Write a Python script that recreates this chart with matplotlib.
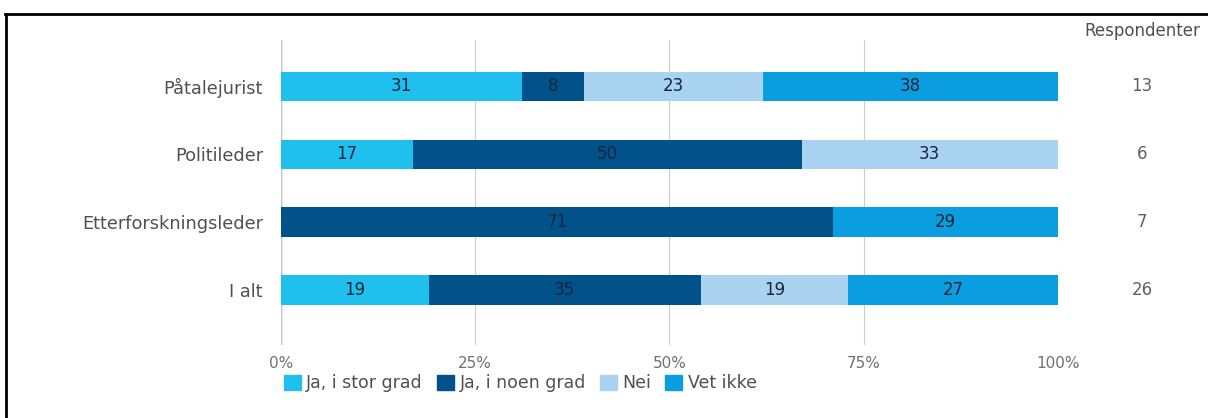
import matplotlib.pyplot as plt
from matplotlib.lines import Line2D

plt.rcParams['font.family'] = ['DejaVu Sans']

roles = ['Påtalejurist', 'Politileder', 'Etterforskningsleder', 'I alt']
answers = ['Ja, i stor grad', 'Ja, i noen grad', 'Nei', 'Vet ikke']
stor_grad = [31, 17, 0, 19]
noen_grad = [8, 50, 71, 35]
nei = [23, 33, 0, 19]
vet_ikke = [38, 0, 29, 27]
respondents = [13, 6, 7, 26]

colors = ['#1fc0ee', '#01528a', '#a9d3f1', '#0a9de0']
series = [stor_grad, noen_grad, nei, vet_ikke]

fig = plt.figure(figsize=(12.08, 4.18), dpi=100)
ax = fig.add_axes([0.2326, 0.1746, 0.6432, 0.7297])

y = list(range(len(roles)))
left = [0] * len(roles)
for name, vals, c in zip(answers, series, colors):
    ax.barh(y, vals, left=left, height=0.43, color=c, label=name, zorder=2)
    for i, v in enumerate(vals):
        if v > 0:
            ax.text(left[i] + v / 2, y[i], str(v), ha='center', va='center',
                    fontsize=12, color='#16263a', zorder=3)
    left = [l + v for l, v in zip(left, vals)]

ax.set_xlim(0, 100)
ax.set_ylim(3.81, -0.68)
ax.set_yticks(y)
ax.set_yticklabels(roles, fontsize=12.8, color='#505050')
ax.tick_params(axis='y', length=0, pad=13)
ax.set_xticks([0, 25, 50, 75, 100])
ax.set_xticklabels(['0%', '25%', '50%', '75%', '100%'], fontsize=11, color='#707070')
ax.tick_params(axis='x', length=0, pad=8)
ax.grid(axis='x', color='#cccccc', lw=0.8, zorder=0)
for s in ax.spines.values():
    s.set_visible(False)
ax.axvline(0, color='#333333', lw=0.9, zorder=1)

# respondent counts to the right of the bars
ax.text(1.108, 1.0, 'Respondenter', transform=ax.transAxes, ha='center', va='bottom',
        fontsize=12, color='#505050')
for i, n in enumerate(respondents):
    ax.text(110.8, y[i], str(n), ha='center', va='center', fontsize=12,
            color='#606060', clip_on=False)

handles = [plt.Rectangle((0, 0), 1, 1, color=c) for c in colors]
fig.legend(handles, answers, loc='center left', bbox_to_anchor=(0.222, 0.083),
           ncol=4, frameon=False, fontsize=12.5, handlelength=1.0, handleheight=1.0,
           handletextpad=0.3, columnspacing=0.8, labelcolor='#505050')

# frame around the chart panel
fig.add_artist(Line2D([0.004, 1.0], [0.967, 0.967], color='black', lw=2))
fig.add_artist(Line2D([0.005, 0.005], [0.0, 0.967], color='black', lw=2))

fig.savefig('out.png', dpi=100)
